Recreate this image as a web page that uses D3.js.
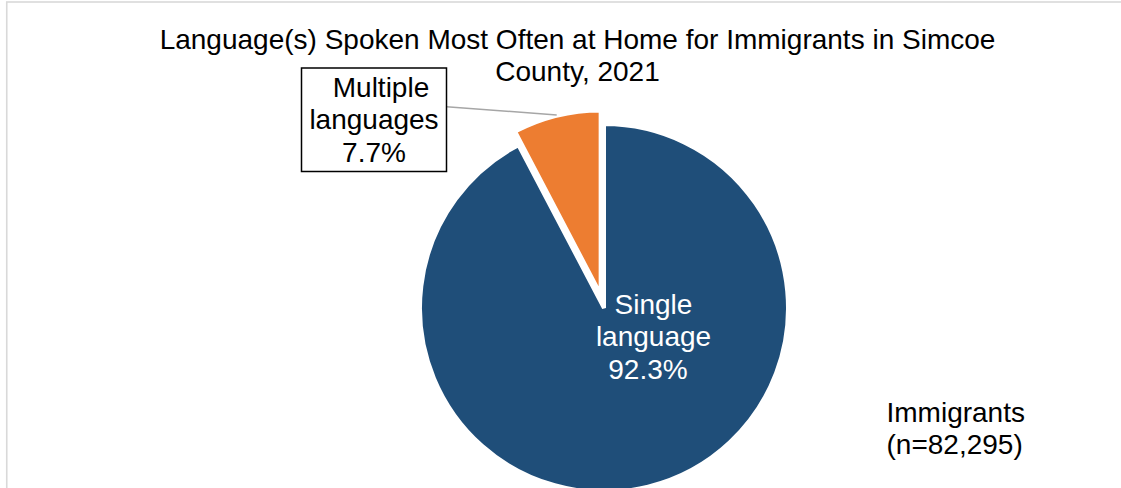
<!DOCTYPE html>
<html>
<head>
<meta charset="utf-8">
<script src="https://cdn.jsdelivr.net/npm/d3@7"></script>
<style>
  html, body { margin: 0; padding: 0; background: #ffffff; }
  svg { display: block; }
  text { font-family: "Liberation Sans", Arial, sans-serif; }
</style>
</head>
<body>
<svg id="chart" width="1121" height="488"></svg>
<script>
// Language spoken most often at home, immigrants in Simcoe County, 2021
const categories = ["Single language", "Multiple languages"];
const shares = [92.3, 7.7];
const labelLines = [["Single", "language", "92.3%"], ["Multiple", "languages", "7.7%"]];
const titleLines = ["Language(s) Spoken Most Often at Home for Immigrants in Simcoe", "County, 2021"];
const noteLines = ["Immigrants", "(n=82,295)"];

const colors = d3.scaleOrdinal().domain(categories).range(["#1f4e79", "#ed7d31"]);

const svg = d3.select("#chart");
const W = 1121, H = 488;

// chart area frame (only top and left edges fall inside the view)
svg.append("rect")
  .attr("x", 6.75).attr("y", 2)
  .attr("width", W + 50).attr("height", H + 50)
  .attr("fill", "none").attr("stroke", "#d9d9d9").attr("stroke-width", 1.6);

// title
svg.append("text")
  .attr("text-anchor", "middle")
  .attr("font-size", 28)
  .attr("fill", "#000")
  .selectAll("tspan").data(titleLines).join("tspan")
  .attr("x", 577.5)
  .attr("y", (d, i) => 49 + i * 32)
  .text(d => d);

// pie
const cx = 604, cy = 308, R = 184;
const explode = 14;
const pie = d3.pie().sort(null).value(d => d.value).startAngle(0).endAngle(2 * Math.PI);
const arcs = pie(categories.map((c, i) => ({ name: c, value: shares[i] })));
const arc = d3.arc().innerRadius(0).outerRadius(R);

const g = svg.append("g").attr("transform", `translate(${cx},${cy})`);

g.selectAll("path").data(arcs).join("path")
  .attr("d", arc)
  .attr("fill", d => colors(d.data.name))
  .attr("stroke", "#ffffff")
  .attr("stroke-width", 4)
  .attr("stroke-linejoin", "miter")
  .attr("transform", (d, i) => {
    if (i !== 1) return null;
    const a = (d.startAngle + d.endAngle) / 2;
    return `translate(${explode * Math.sin(a)},${-explode * Math.cos(a)})`;
  });

// in-slice label for the large slice
svg.append("text")
  .attr("text-anchor", "middle")
  .attr("font-size", 28)
  .attr("fill", "#ffffff")
  .selectAll("tspan").data(labelLines[0]).join("tspan")
  .attr("x", (d, i) => cx + (i === 2 ? 44 : 49.5))
  .attr("y", (d, i) => cy + 5.5 + i * 32.5)
  .text(d => d);

// callout for the exploded slice
const box = { x: 301.5, y: 68, w: 145, h: 103.5 };
svg.append("line")
  .attr("x1", box.x + box.w).attr("y1", 106.7)
  .attr("x2", 556.7).attr("y2", 115)
  .attr("stroke", "#a6a6a6").attr("stroke-width", 1.5);
svg.append("rect")
  .attr("x", box.x).attr("y", box.y)
  .attr("width", box.w).attr("height", box.h)
  .attr("fill", "#ffffff").attr("stroke", "#000000").attr("stroke-width", 1.5);
svg.append("text")
  .attr("text-anchor", "middle")
  .attr("font-size", 28)
  .attr("fill", "#000")
  .selectAll("tspan").data(labelLines[1]).join("tspan")
  .attr("x", (d, i) => box.x + box.w / 2 + (i === 0 ? 7 : 0))
  .attr("y", (d, i) => 96.7 + i * 32.5)
  .text(d => d);

// sample size note
svg.append("text")
  .attr("text-anchor", "start")
  .attr("font-size", 28)
  .attr("fill", "#000")
  .selectAll("tspan").data(noteLines).join("tspan")
  .attr("x", 886.5)
  .attr("y", (d, i) => 422.3 + i * 31.5)
  .text(d => d);
</script>
</body>
</html>
